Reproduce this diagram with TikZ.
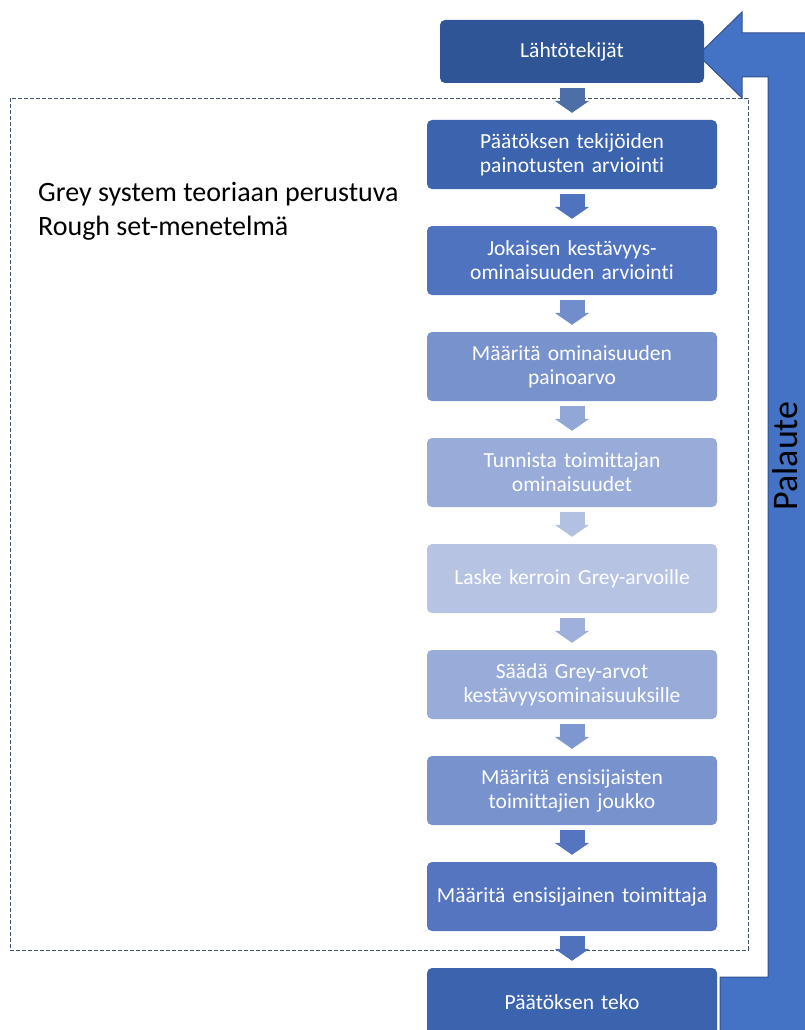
\documentclass[tikz,border=0pt]{standalone}
\usepackage{fontspec}
\setmainfont{Carlito}[Ligatures=NoCommon]
\usetikzlibrary{arrows.meta}
\definecolor{ctop}{HTML}{2F5597}
\definecolor{cA}{HTML}{3C63AE}
\definecolor{cB}{HTML}{5073C0}
\definecolor{cC}{HTML}{7892CE}
\definecolor{cD}{HTML}{98ABD9}
\definecolor{cE}{HTML}{B7C3E3}
\definecolor{cF}{HTML}{5575C0}
\definecolor{bigfill}{HTML}{4472C4}
\definecolor{bigline}{HTML}{2F528F}
\definecolor{dashc}{HTML}{44546A}
\tikzset{
  stepbox/.style={rounded corners=5pt, minimum width=290pt, minimum height=69pt,
    text width=286pt, align=center, text=white, font=\fontsize{21.5}{24}\selectfont, inner sep=0pt},
  flowarrow/.style={line width=25pt, -{Triangle[width=34pt,length=12pt]}, shorten <=5pt, shorten >=7pt},
}
\begin{document}
\begin{tikzpicture}[x=1pt,y=-1pt]
\useasboundingbox (0,0) rectangle (805,1030);
\clip (0,0) rectangle (805,1030);
% big feedback arrow
\draw[fill=bigfill, draw=bigline, line width=1pt]
  (720,977) -- (768,977) -- (768,77) -- (742,77) -- (742,98) -- (698,55) -- (742,12) -- (742,33)
  -- (815,33) -- (815,1040) -- (720,1040) -- cycle;
\node[rotate=90, anchor=base, inner sep=0pt, font=\fontsize{36}{40}\selectfont] (pal) at (797,456) {Palaute};
% dashed frame
\draw[dashc, line width=0.8pt, dash pattern=on 4pt off 2pt] (10,98) rectangle (748,950);
\node[anchor=west, align=left, inner sep=0pt, font=\fontsize{28}{34}\selectfont] (lbl) at (38,211)
  {Grey system teoriaan perustuva\\Rough set-menetelmä};
% boxes
\node[stepbox, fill=ctop, minimum width=264pt, minimum height=63pt, text width=260pt] (b0) at (572,51.5) {Lähtötekijät};
\node[stepbox, fill=cA] (b1) at (572,154.5) {Päätöksen tekijöiden\\painotusten arviointi};
\node[stepbox, fill=cB] (b2) at (572,260.5) {Jokaisen kestävyys-\\ominaisuuden arviointi};
\node[stepbox, fill=cC] (b3) at (572,366.5) {Määritä ominaisuuden\\painoarvo};
\node[stepbox, fill=cD] (b4) at (572,472.5) {Tunnista toimittajan\\ominaisuudet};
\node[stepbox, fill=cE] (b5) at (572,578.5) {Laske kerroin Grey-arvoille};
\node[stepbox, fill=cD] (b6) at (572,684.5) {Säädä Grey-arvot\\kestävyysominaisuuksille};
\node[stepbox, fill=cC] (b7) at (572,790.5) {Määritä ensisijaisten\\toimittajien joukko};
\node[stepbox, fill=cF] (b8) at (572,896.5) {Määritä ensisijainen toimittaja};
\node[stepbox, fill=cA, minimum height=68pt] (b9) at (572,1002) {Päätöksen teko};
% arrows
\draw[flowarrow, ctop!85!white] (b0.south) -- (b1.north);
\draw[flowarrow, cB] (b1.south) -- (b2.north);
\draw[flowarrow, cC!85!cB] (b2.south) -- (b3.north);
\draw[flowarrow, cD!85!cC] (b3.south) -- (b4.north);
\draw[flowarrow, cE!85!cD] (b4.south) -- (b5.north);
\draw[flowarrow, cD!80!cE] (b5.south) -- (b6.north);
\draw[flowarrow, cC!80!cD] (b6.south) -- (b7.north);
\draw[flowarrow, cF] (b7.south) -- (b8.north);
\draw[flowarrow, cF!80!cA] (b8.south) -- (b9.north);
\end{tikzpicture}
\end{document}
